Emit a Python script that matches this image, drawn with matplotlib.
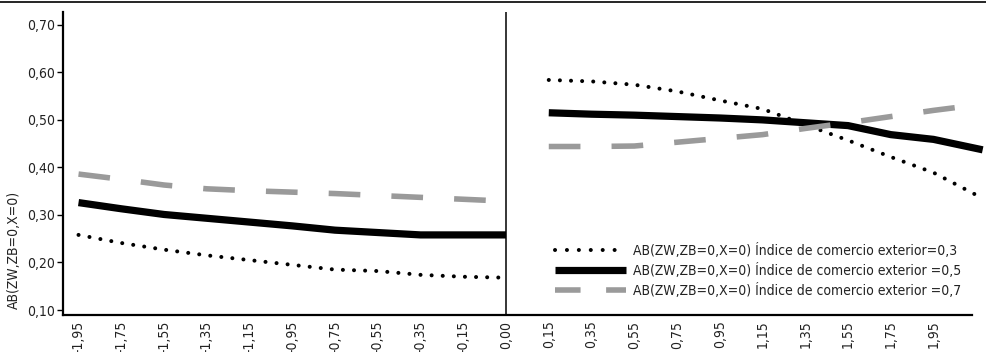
import numpy as np
import matplotlib
matplotlib.use("Agg")
import matplotlib.pyplot as plt
from matplotlib.lines import Line2D

plt.rcParams['font.family'] = ['DejaVu Sans']
plt.rcParams['font.stretch'] = 'condensed'

# x axis categories (tick labels), one per position
x_labels = ['-1,95', '-1,75', '-1,55', '-1,35', '-1,15', '-0,95', '-0,75',
            '-0,55', '-0,35', '-0,15', '0,00', '0,15', '0,35', '0,55',
            '0,75', '0,95', '1,15', '1,35', '1,55', '1,75', '1,95']

# positions of the two segments (left: up to 0,00 ; right: from 0,15 on)
x_left = [0, 1, 2, 3, 4, 5, 6, 7, 8, 9, 10]
x_right = [11, 12, 13, 14, 15, 16, 17, 18, 19, 20, 21.15]

# AB(ZW,ZB=0,X=0) for three values of the foreign-trade index
ab_03_left = [0.258, 0.241, 0.227, 0.215, 0.205, 0.195, 0.185, 0.182, 0.174, 0.170, 0.168]
ab_05_left = [0.326, 0.313, 0.301, 0.293, 0.285, 0.277, 0.268, 0.263, 0.258, 0.258, 0.258]
ab_07_left = [0.386, 0.375, 0.363, 0.355, 0.351, 0.348, 0.345, 0.341, 0.337, 0.333, 0.329]

ab_03_right = [0.584, 0.581, 0.574, 0.560, 0.541, 0.523, 0.490, 0.457, 0.422, 0.389, 0.335]
ab_05_right = [0.515, 0.512, 0.510, 0.507, 0.504, 0.500, 0.494, 0.488, 0.469, 0.459, 0.437]
ab_07_right = [0.444, 0.444, 0.445, 0.453, 0.461, 0.469, 0.482, 0.494, 0.507, 0.520, 0.533]

legend_labels = ['AB(ZW,ZB=0,X=0) Índice de comercio exterior=0,3',
                 'AB(ZW,ZB=0,X=0) Índice de comercio exterior =0,5',
                 'AB(ZW,ZB=0,X=0) Índice de comercio exterior =0,7']

y_ticks = [0.10, 0.20, 0.30, 0.40, 0.50, 0.60, 0.70]

grey = '#9a9a9a'
txt = '#222222'

fig = plt.figure(figsize=(9.86, 3.52), dpi=100)
ax = fig.add_axes([63 / 986, 1 - 315 / 352, (972 - 63) / 986, (315 - 12) / 352])

dot_kw = dict(color='black', lw=2.9, linestyle=(0, (0.01, 2.75)),
              dash_capstyle='round', clip_on=False)
solid_kw = dict(color='black', lw=5.2, solid_capstyle='butt', clip_on=False)
dash_kw = dict(color=grey, lw=4.0, linestyle=(0, (5.7, 5.6)),
               dash_capstyle='butt', clip_on=False)

ax.plot(x_left, ab_03_left, label=legend_labels[0], **dot_kw)
ax.plot(x_left, ab_05_left, label=legend_labels[1], **solid_kw)
ax.plot(x_left, ab_07_left, label=legend_labels[2], **dash_kw)
ax.plot(x_right, ab_03_right, **dot_kw)
ax.plot(x_right, ab_05_right, **solid_kw)
ax.plot(x_right, ab_07_right, **dash_kw)

# separator at 0,00
ax.axvline(10, color='black', lw=1.1)

ax.set_xlim(-0.363, 20.9)
ax.set_ylim(0.0895, 0.727)

ax.set_xticks(range(len(x_labels)))
ax.set_xticklabels(x_labels, rotation=90, fontsize=10, color=txt, va='top')
ax.tick_params(axis='x', length=0, pad=4)

ax.set_yticks(y_ticks)
ax.set_yticklabels([f'{v:.2f}'.replace('.', ',') for v in y_ticks],
                   fontsize=10, color=txt)
ax.tick_params(axis='y', length=4, width=1, direction='out', pad=2)

for side in ['top', 'right']:
    ax.spines[side].set_visible(False)
for side in ['left', 'bottom']:
    ax.spines[side].set_linewidth(1.6)

fig.text(14 / 986, 1 - 250 / 352, 'AB(ZW,ZB=0,X=0)', rotation=90,
         fontsize=10, color=txt, ha='center', va='center')

leg = ax.legend(loc='upper left', bbox_to_anchor=(555 / 986, 1 - 243 / 352),
                bbox_transform=fig.transFigure, frameon=False, fontsize=10,
                handlelength=5.1, handletextpad=0.5, labelspacing=0.35,
                borderpad=0, borderaxespad=0)
for t in leg.get_texts():
    t.set_color(txt)
# shorter dashes in the legend key so it shows dash-gap-dash
leg.get_lines()[2].set_linestyle((0, (4.6, 4.6)))
leg.get_lines()[0].set_linestyle((0, (0.01, 2.95)))

# rule across the top of the figure
fig.add_artist(Line2D([0, 1], [1 - 2 / 352, 1 - 2 / 352], color='black', lw=1.2,
                      transform=fig.transFigure))

fig.savefig('out.png', dpi=100)
